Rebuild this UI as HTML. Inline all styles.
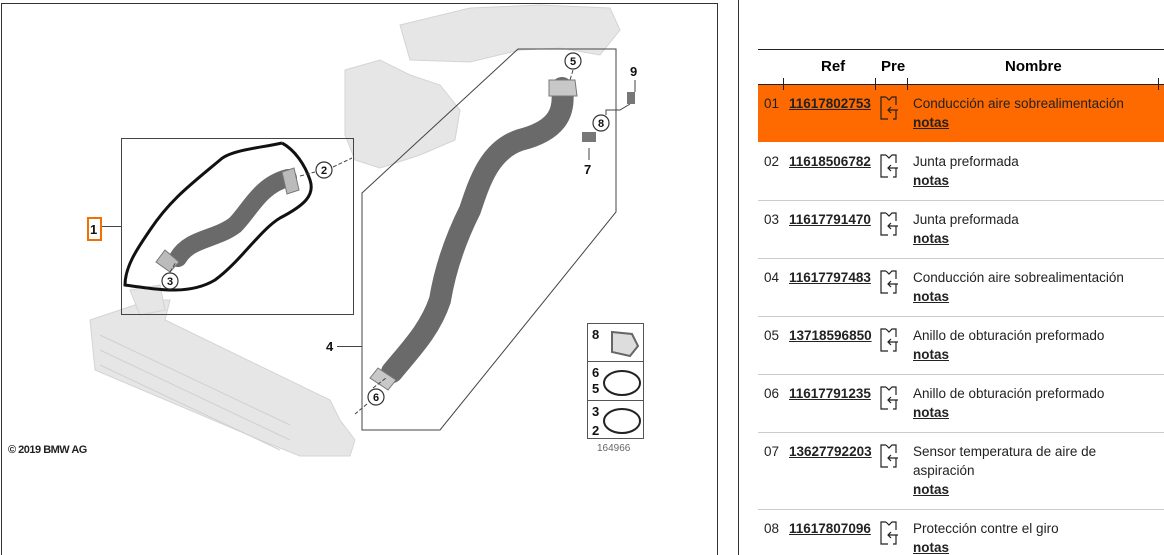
<!DOCTYPE html>
<html><head><meta charset="utf-8"><style>
body{margin:0;width:1164px;height:555px;background:#fff;position:relative;overflow:hidden;font-family:"Liberation Sans",sans-serif;}
.a{position:absolute;white-space:nowrap;}
.t{font-size:13.5px;color:#222;}
.ref{font-size:13.5px;font-weight:bold;text-decoration:underline;color:#222;}
.n{font-size:13.5px;font-weight:bold;text-decoration:underline;color:#222;}
.sep{position:absolute;left:758px;width:406px;height:1px;background:#ccc;}
</style></head><body>
<svg class="a" style="left:0;top:0" width="720" height="555">
<rect x="1.5" y="3.5" width="716" height="560" fill="none" stroke="#333" stroke-width="1"/>
<g fill="#e6e6e6" stroke="#d4d4d4">
<path d="M400,25 L470,8 L540,5 L610,8 L620,30 L600,55 L560,48 L520,50 L470,62 L410,60 Z"/>
<path d="M345,70 L380,60 L410,75 L440,85 L460,110 L455,140 L420,155 L380,168 L355,160 L345,135 Z"/>
<path d="M90,320 L150,300 L170,300 L165,320 L330,400 L340,420 L355,440 L350,456 L300,456 L260,440 L95,370 Z"/>
<path d="M130,290 L160,285 L165,310 L140,315 Z"/>
</g>
<g stroke="#d0d0d0" fill="none"><line x1="100" y1="335" x2="290" y2="425"/><line x1="100" y1="350" x2="290" y2="440"/><line x1="100" y1="365" x2="280" y2="450"/></g>
<rect x="121.5" y="138.5" width="232" height="176" fill="none" stroke="#444"/>
<line x1="101" y1="226.5" x2="121" y2="226.5" stroke="#444"/>
<rect x="88" y="218" width="13" height="22" fill="none" stroke="#f07000" stroke-width="2"/>
<polygon points="518,49 616,49 616,212 440,430 362,430 362,193" fill="none" stroke="#444"/>
<line x1="337" y1="346.5" x2="362" y2="346.5" stroke="#444"/>
<path d="M288,178 C260,185 250,210 235,225 C215,240 190,238 178,258" stroke="#6a6a6a" stroke-width="18" fill="none" stroke-linecap="round"/>
<path d="M282,172 l12,-4 l5,22 l-12,4 Z" fill="#bbb" stroke="#777"/>
<path d="M165,250 l14,12 l-9,10 l-14,-10 Z" fill="#bbb" stroke="#777"/>
<path d="M282,143 C260,148 230,150 220,160 C190,185 170,200 150,230 C140,245 125,265 125,285 C160,290 190,295 215,280 C240,262 260,230 280,218 C305,205 315,195 310,180 C305,165 295,150 282,143" stroke="#111" stroke-width="3" fill="none"/>
<path d="M562,88 C565,110 560,130 520,140 C490,150 480,180 470,210 C455,240 445,270 440,300 C430,330 410,350 392,372" stroke="#6a6a6a" stroke-width="22" fill="none" stroke-linecap="round"/>
<path d="M549,80 l26,0 l2,16 l-28,0 Z" fill="#c8c8c8" stroke="#777"/>
<path d="M378,368 l18,12 l-8,10 l-18,-12 Z" fill="#c8c8c8" stroke="#777"/>
<rect x="582" y="132" width="14" height="10" fill="#777"/>
<rect x="627" y="92" width="8" height="12" fill="#777"/>
<polyline points="606,115 606,110 620,110 630,104" fill="none" stroke="#444"/>
<g stroke="#444" stroke-dasharray="4,2" fill="none">
<line x1="333" y1="167" x2="352" y2="158"/><line x1="300" y1="176" x2="315" y2="172"/>
<line x1="170" y1="272" x2="176" y2="262"/><line x1="573" y1="70" x2="570" y2="80"/>
<line x1="373" y1="388" x2="386" y2="378"/><line x1="367" y1="404" x2="355" y2="414"/>
</g>
<line x1="589" y1="148" x2="589" y2="160" stroke="#444"/><line x1="635" y1="80" x2="635" y2="92" stroke="#444"/>
<g fill="#fff" stroke="#333" stroke-width="1.2">
<circle cx="324" cy="170" r="8"/><circle cx="170" cy="281" r="8"/><circle cx="573" cy="61" r="8"/><circle cx="376" cy="397" r="8"/><circle cx="601" cy="123" r="8"/>
</g>
<g font-family="Liberation Sans" font-weight="bold" font-size="11" text-anchor="middle" fill="#111">
<text x="324" y="174">2</text><text x="170" y="285">3</text><text x="573" y="65">5</text><text x="376" y="401">6</text><text x="601" y="127">8</text>
</g>
<g font-family="Liberation Sans" font-weight="bold" font-size="13" fill="#111">
<text x="630" y="76">9</text><text x="584" y="174">7</text><text x="326" y="351">4</text><text x="90" y="234">1</text>
<text x="592" y="339">8</text><text x="592" y="377">6</text><text x="592" y="393">5</text><text x="592" y="416">3</text><text x="592" y="435">2</text>
</g>
<rect x="587.5" y="323.5" width="56" height="115" fill="none" stroke="#555"/>
<line x1="587" y1="361.5" x2="643" y2="361.5" stroke="#555"/><line x1="587" y1="400.5" x2="643" y2="400.5" stroke="#555"/>
<path d="M612,332 l20,2 l6,12 l-8,10 l-18,-4 Z" fill="#ddd" stroke="#666" stroke-width="2"/>
<ellipse cx="622" cy="383" rx="18" ry="12" fill="none" stroke="#222" stroke-width="2"/>
<ellipse cx="622" cy="421" rx="18" ry="12" fill="none" stroke="#222" stroke-width="2"/>
<text x="597" y="451" font-family="Liberation Sans" font-size="10" fill="#666">164966</text>
<text x="8" y="453" font-family="Liberation Sans" font-size="11" font-weight="bold" fill="#222" letter-spacing="-0.5">© 2019 BMW AG</text>
</svg>
<div class="a" style="left:738px;top:0;width:1px;height:555px;background:#333"></div>
<div class="a" style="left:758px;top:49px;width:406px;height:1px;background:#222"></div>
<div class="a" style="left:758px;top:84px;width:406px;height:58px;background:#ff6a00"></div>
<div class="a" style="left:758px;top:84px;width:406px;height:1px;background:#222"></div>
<div class="a" style="left:783px;top:78px;width:1px;height:12px;background:#222"></div>
<div class="a" style="left:875px;top:78px;width:1px;height:12px;background:#222"></div>
<div class="a" style="left:907px;top:78px;width:1px;height:12px;background:#222"></div>
<div class="a" style="left:1158px;top:78px;width:1px;height:12px;background:#222"></div>
<div class="a" style="left:821px;top:58px;font-size:15px;font-weight:bold">Ref</div>
<div class="a" style="left:881px;top:58px;font-size:15px;font-weight:bold">Pre</div>
<div class="a" style="left:1005px;top:58px;font-size:15px;font-weight:bold">Nombre</div>
<div class="sep" style="top:200px"></div><div class="sep" style="top:258px"></div><div class="sep" style="top:316px"></div><div class="sep" style="top:374px"></div><div class="sep" style="top:432px"></div><div class="sep" style="top:509px"></div>

<div class="a t" style="left:764px;top:96px">01</div><div class="a ref" style="left:789px;top:96px">11617802753</div>
<div class="a t" style="left:913px;top:96px">Conducción aire sobrealimentación</div><div class="a n" style="left:913px;top:115px">notas</div>
<div class="a t" style="left:764px;top:154px">02</div><div class="a ref" style="left:789px;top:154px">11618506782</div>
<div class="a t" style="left:913px;top:154px">Junta preformada</div><div class="a n" style="left:913px;top:173px">notas</div>
<div class="a t" style="left:764px;top:212px">03</div><div class="a ref" style="left:789px;top:212px">11617791470</div>
<div class="a t" style="left:913px;top:212px">Junta preformada</div><div class="a n" style="left:913px;top:231px">notas</div>
<div class="a t" style="left:764px;top:270px">04</div><div class="a ref" style="left:789px;top:270px">11617797483</div>
<div class="a t" style="left:913px;top:270px">Conducción aire sobrealimentación</div><div class="a n" style="left:913px;top:289px">notas</div>
<div class="a t" style="left:764px;top:328px">05</div><div class="a ref" style="left:789px;top:328px">13718596850</div>
<div class="a t" style="left:913px;top:328px">Anillo de obturación preformado</div><div class="a n" style="left:913px;top:347px">notas</div>
<div class="a t" style="left:764px;top:386px">06</div><div class="a ref" style="left:789px;top:386px">11617791235</div>
<div class="a t" style="left:913px;top:386px">Anillo de obturación preformado</div><div class="a n" style="left:913px;top:405px">notas</div>
<div class="a t" style="left:764px;top:444px">07</div><div class="a ref" style="left:789px;top:444px">13627792203</div>
<div class="a t" style="left:913px;top:444px">Sensor temperatura de aire de</div><div class="a t" style="left:913px;top:463px">aspiración</div><div class="a n" style="left:913px;top:482px">notas</div>
<div class="a t" style="left:764px;top:521px">08</div><div class="a ref" style="left:789px;top:521px">11617807096</div>
<div class="a t" style="left:913px;top:521px">Protección contre el giro</div><div class="a n" style="left:913px;top:540px">notas</div>

<svg class="a" style="left:878px;top:0" width="28" height="555">
<defs><g id="ic" fill="none" stroke="#222" stroke-width="1.2"><path d="M8,1 h-5 v22 h7 M8,1 l3,3 l3,-3 h4 v8 M20,14 h-10 m3,-3 l-3,3 l3,3 M18,14 v9 h-3"/></g></defs>
<use href="#ic" x="0" y="96"/><use href="#ic" x="0" y="154"/><use href="#ic" x="0" y="212"/><use href="#ic" x="0" y="270"/><use href="#ic" x="0" y="328"/><use href="#ic" x="0" y="386"/><use href="#ic" x="0" y="444"/><use href="#ic" x="0" y="521"/>
</svg>
</body></html>
